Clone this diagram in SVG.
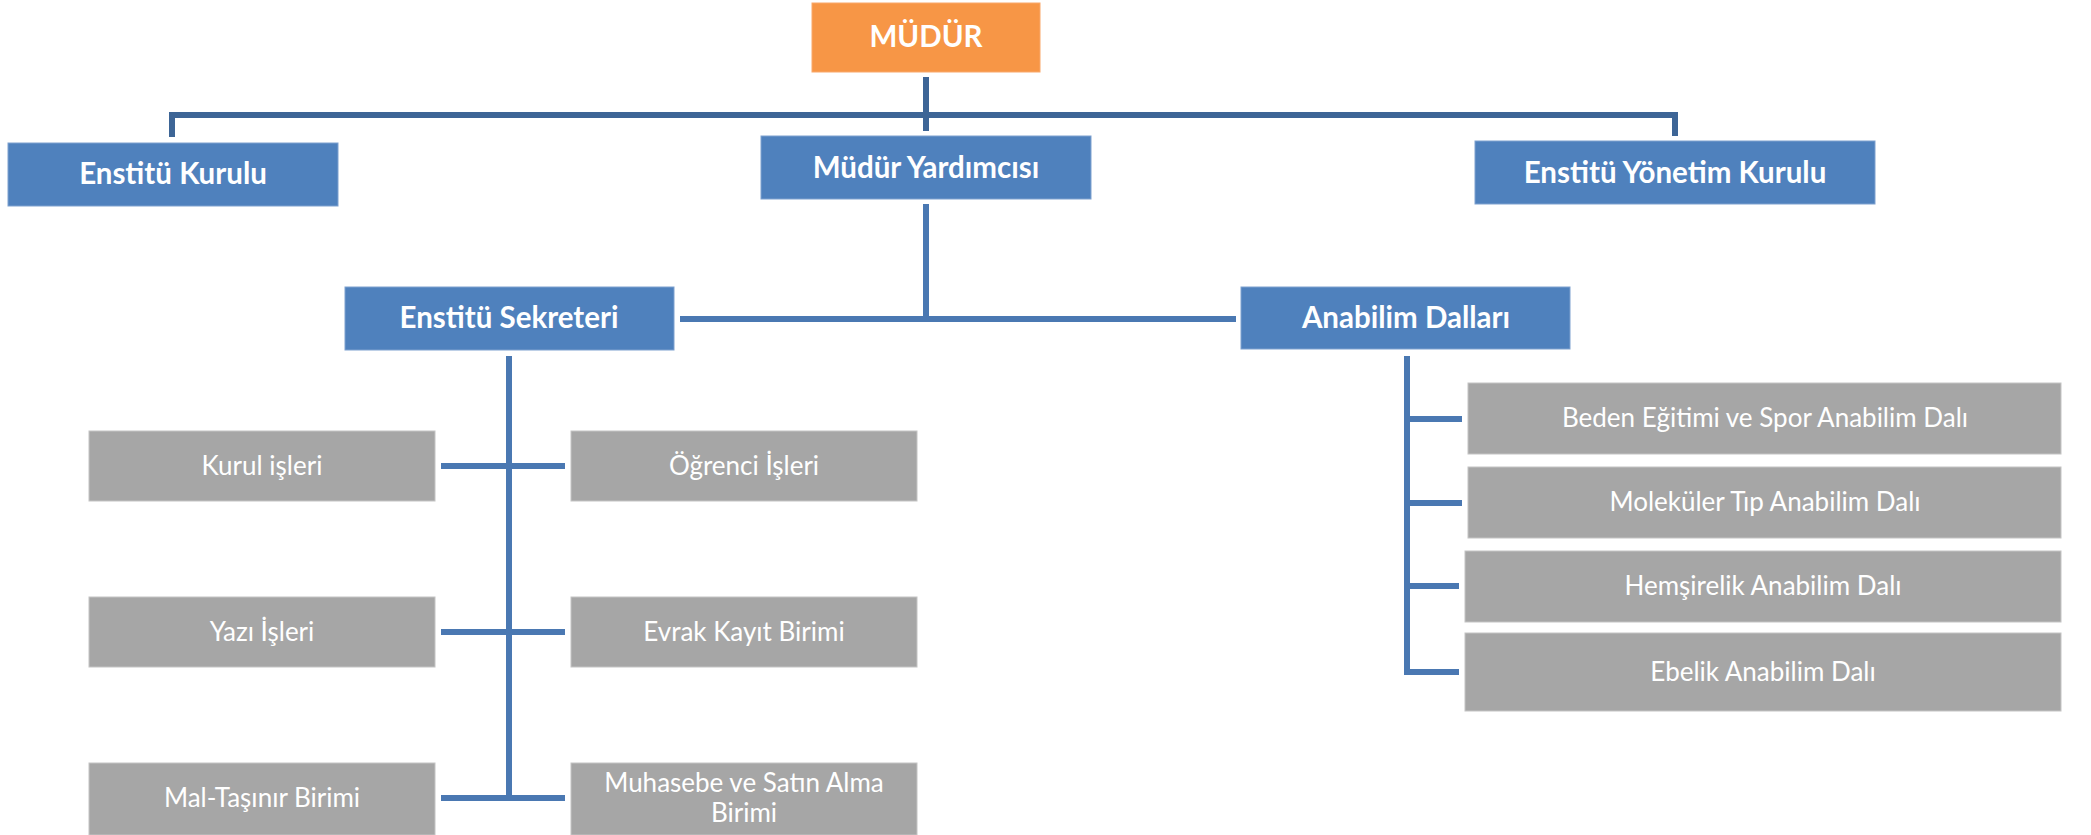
<svg xmlns="http://www.w3.org/2000/svg" width="2091" height="835" viewBox="0 0 2091 835">
<style>
.bg{fill:#ffffff}
.top{fill:#F79646;stroke:#F9A86A;stroke-width:1}
.blue{fill:#4F81BD;stroke:#7EA1CF;stroke-width:1}
.grey{fill:#A6A6A6;stroke:#C4C4C4;stroke-width:1}
.tb{font-family:Lato,"Open Sans","Liberation Sans",sans-serif;font-weight:bold;font-size:29.5px;fill:#ffffff;text-anchor:middle}
.tr{font-family:Lato,"Open Sans","Liberation Sans",sans-serif;font-size:26px;fill:#ffffff;text-anchor:middle}
.c1{fill:none;stroke:#3D6596;stroke-width:6}
.c2{fill:none;stroke:#4A78B2;stroke-width:6}
</style>
<rect class="bg" x="0" y="0" width="2091" height="835"/>
<g id="connectors">
<path class="c1" d="M926 77V131"/>
<path class="c1" d="M172 137V115H1675V136"/>
<path class="c2" d="M926 204V319"/>
<path class="c2" d="M680 319H1236"/>
<path class="c2" d="M509 356V801"/>
<path class="c2" d="M441 466H565M441 632H565M441 798H565"/>
<path class="c2" d="M1407 356V673"/>
<path class="c2" d="M1404 419H1462M1404 503H1462M1404 586H1459M1404 672H1459"/>
</g>
<g id="mudur"><rect class="top" x="812" y="3" width="228" height="69"/><text class="tb" x="926" y="47">MÜDÜR</text></g>
<g id="enstitu-kurulu"><rect class="blue" x="8" y="143" width="330" height="63"/><text class="tb" x="173" y="184">Enstitü Kurulu</text></g>
<g id="mudur-yardimcisi"><rect class="blue" x="761" y="136" width="330" height="63"/><text class="tb" x="926" y="178">Müdür Yardımcısı</text></g>
<g id="enstitu-yonetim-kurulu"><rect class="blue" x="1475" y="141" width="400" height="63"/><text class="tb" x="1675" y="183">Enstitü Yönetim Kurulu</text></g>
<g id="enstitu-sekreteri"><rect class="blue" x="345" y="287" width="329" height="63"/><text class="tb" x="509" y="328">Enstitü Sekreteri</text></g>
<g id="anabilim-dallari"><rect class="blue" x="1241" y="287" width="329" height="62"/><text class="tb" x="1406" y="328">Anabilim Dalları</text></g>
<g id="kurul-isleri"><rect class="grey" x="89" y="431" width="346" height="70"/><text class="tr" x="262" y="475">Kurul işleri</text></g>
<g id="ogrenci-isleri"><rect class="grey" x="571" y="431" width="346" height="70"/><text class="tr" x="744" y="475">Öğrenci İşleri</text></g>
<g id="yazi-isleri"><rect class="grey" x="89" y="597" width="346" height="70"/><text class="tr" x="262" y="641">Yazı İşleri</text></g>
<g id="evrak-kayit"><rect class="grey" x="571" y="597" width="346" height="70"/><text class="tr" x="744" y="641">Evrak Kayıt Birimi</text></g>
<g id="mal-tasinir"><rect class="grey" x="89" y="763" width="346" height="72"/><text class="tr" x="262" y="807">Mal-Taşınır Birimi</text></g>
<g id="muhasebe"><rect class="grey" x="571" y="763" width="346" height="72"/><text class="tr" x="744" y="792">Muhasebe ve Satın Alma</text><text class="tr" x="744" y="822">Birimi</text></g>
<g id="beden"><rect class="grey" x="1468" y="383" width="593" height="71"/><text class="tr" x="1765" y="427">Beden Eğitimi ve Spor Anabilim Dalı</text></g>
<g id="molekuler"><rect class="grey" x="1468" y="467" width="593" height="71"/><text class="tr" x="1765" y="511">Moleküler Tıp Anabilim Dalı</text></g>
<g id="hemsirelik"><rect class="grey" x="1465" y="551" width="596" height="71"/><text class="tr" x="1763" y="595">Hemşirelik Anabilim Dalı</text></g>
<g id="ebelik"><rect class="grey" x="1465" y="633" width="596" height="78"/><text class="tr" x="1763" y="681">Ebelik Anabilim Dalı</text></g>
</svg>
